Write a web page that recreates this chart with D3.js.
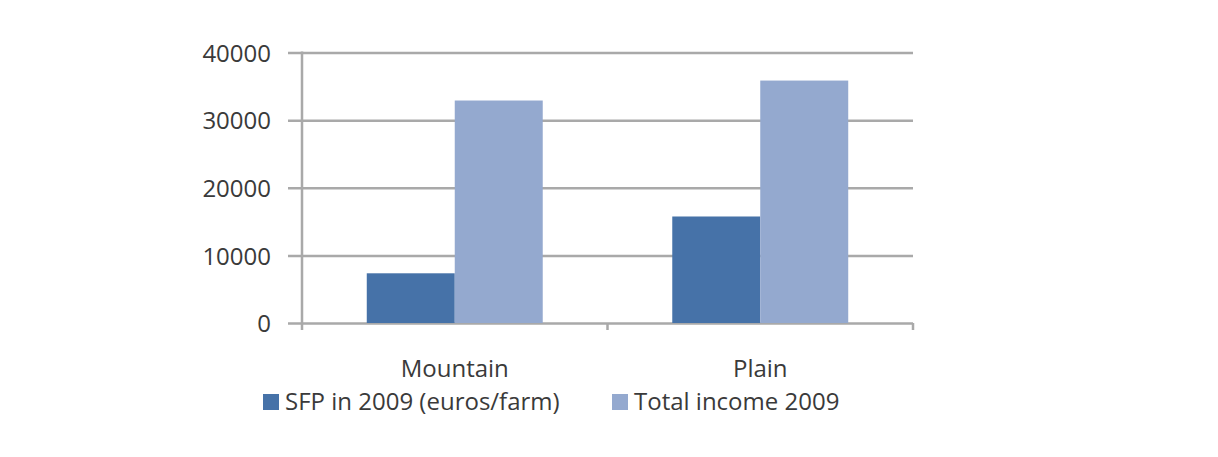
<!DOCTYPE html>
<html>
<head>
<meta charset="utf-8">
<script src="https://cdn.jsdelivr.net/npm/d3@7"></script>
<style>
  body { margin: 0; background: #fff; }
  text { font-family: "Open Sans", sans-serif; fill: #3a3a3a; }
</style>
</head>
<body>
<div id="chart"></div>
<script>
const categories = ["Mountain", "Plain"];
const seriesNames = ["SFP in 2009 (euros/farm)", "Total income 2009"];
const sfp2009 = [7350, 15750];
const totalIncome2009 = [32900, 35850];
const yTicks = [0, 10000, 20000, 30000, 40000];
const colors = ["#4672a8", "#94a9cf"];

const width = 1218, height = 457;
const svg = d3.select("#chart").append("svg")
    .attr("width", width)
    .attr("height", height);

const plot = { left: 302, right: 913, top: 52.5, bottom: 323 };

const y = d3.scaleLinear().domain([0, 40000]).range([plot.bottom, plot.top]);
const x0 = d3.scaleBand().domain(categories).range([plot.left, plot.right])
    .paddingInner(0.424).paddingOuter(0.212);
const x1 = d3.scaleBand().domain(seriesNames).range([0, x0.bandwidth()]);

const gridColor = "#a9a9a9";

// gridlines + left ticks
svg.append("g")
    .attr("transform", `translate(${plot.left},0)`)
    .call(d3.axisLeft(y).tickValues(yTicks).tickFormat(d3.format("d"))
        .tickSize(-(plot.right - plot.left)).tickSizeOuter(0).tickPadding(0))
    .call(g => g.select(".domain").remove())
    .call(g => g.selectAll(".tick line")
        .attr("x1", -14)
        .attr("stroke", gridColor)
        .attr("stroke-width", 2.5))
    .call(g => g.selectAll(".tick text")
        .attr("x", -31)
        .attr("dy", "0.36em")
        .style("font-size", "24px")
        .attr("fill", "#3a3a3a"));

// vertical axis line
svg.append("line")
    .attr("x1", plot.left).attr("x2", plot.left)
    .attr("y1", plot.top - 1).attr("y2", plot.bottom + 7)
    .attr("stroke", gridColor).attr("stroke-width", 2.5);

// category separators on x axis
const sepXs = [x0.step() + plot.left, plot.right];
svg.selectAll(".sep").data(sepXs).join("line")
    .attr("x1", d => d).attr("x2", d => d)
    .attr("y1", plot.bottom).attr("y2", plot.bottom + 7)
    .attr("stroke", gridColor).attr("stroke-width", 2.5);

// bars
const series = [sfp2009, totalIncome2009];
const groups = svg.selectAll(".grp").data(categories).join("g")
    .attr("transform", d => `translate(${x0(d)},0)`);
groups.selectAll("rect")
    .data((c, i) => seriesNames.map((s, j) => ({ s, v: series[j][i], j })))
    .join("rect")
    .attr("x", d => x1(d.s))
    .attr("y", d => y(d.v))
    .attr("width", x1.bandwidth())
    .attr("height", d => y(0) - y(d.v))
    .attr("fill", d => colors[d.j]);

// category labels
svg.selectAll(".cat").data(categories).join("text")
    .attr("x", d => x0(d) + x0.bandwidth() / 2)
    .attr("y", 377)
    .attr("text-anchor", "middle")
    .style("font-size", "24px")
    .text(d => d);

// legend
const legendX = [263, 612];
const legend = svg.selectAll(".leg").data(seriesNames).join("g")
    .attr("transform", (d, i) => `translate(${legendX[i]},394)`);
legend.append("rect")
    .attr("width", 16).attr("height", 16)
    .attr("fill", (d, i) => colors[i]);
legend.append("text")
    .attr("x", 22).attr("y", 16)
    .style("font-size", "24px")
    .text(d => d);
</script>
</body>
</html>
